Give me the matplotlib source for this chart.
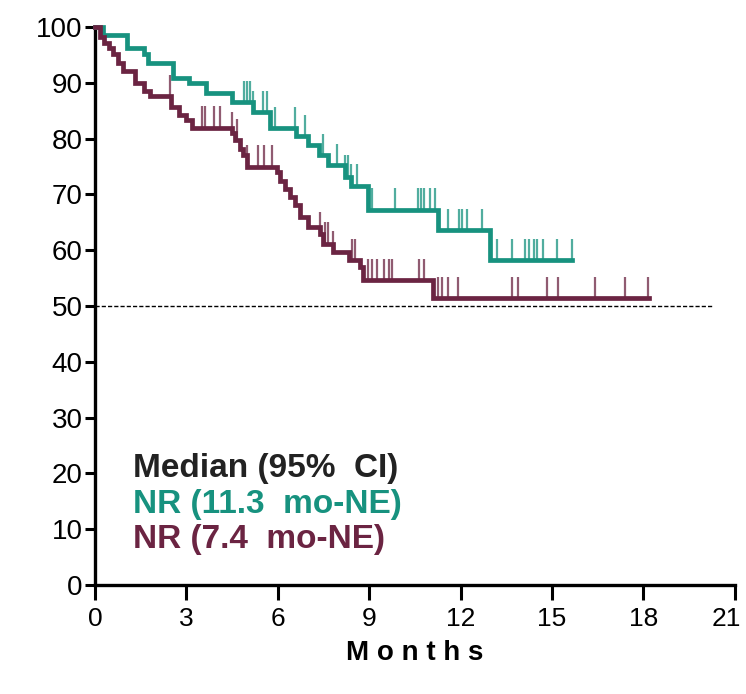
import matplotlib
matplotlib.use("Agg")
import matplotlib.pyplot as plt
import matplotlib.transforms as mtransforms

plt.rcParams['font.family'] = ['Liberation Sans', 'DejaVu Sans']

# survival step data (time in months, % after the drop)
teal_times = [0, 0.25, 1.05, 1.6, 1.75, 2.55, 3.1, 3.65, 4.5, 5.2, 5.75, 6.6,
              7.0, 7.35, 7.65, 8.2, 8.4, 8.95, 11.25, 12.95]
teal_surv = [100, 98.6, 96.2, 95.2, 93.6, 90.9, 89.9, 88.2, 86.5, 84.7, 81.9, 80.5,
             78.8, 77.0, 75.2, 73.2, 71.6, 67.3, 63.6, 58.3]
teal_end = 15.65
teal_censor = [4.9, 5.0, 5.1, 5.2, 5.5, 5.65, 5.9, 6.55, 6.9, 7.5, 7.95, 8.2, 8.3,
               8.4, 8.6, 8.95, 9.1, 9.85, 10.6, 10.7, 10.8, 11.0, 11.15, 11.3,
               11.6, 11.95, 12.05, 12.2, 12.7, 13.2, 13.7, 14.1, 14.25, 14.4,
               14.5, 14.7, 15.15, 15.65]

maroon_times = [0, 0.15, 0.3, 0.45, 0.6, 0.77, 0.93, 1.3, 1.6, 1.8, 2.5, 2.75,
                3.0, 3.2, 4.5, 4.6, 4.75, 4.85, 5.0, 5.97, 6.07, 6.23, 6.4,
                6.56, 6.72, 7.0, 7.38, 7.48, 7.8, 8.35, 8.7, 8.8, 11.08]
maroon_surv = [100, 98.2, 97.2, 96.3, 95.2, 93.6, 92.2, 90.0, 88.6, 87.6, 85.6, 84.2,
               83.3, 82.0, 81.0, 79.7, 78.2, 77.0, 75.0, 74.0, 72.5, 71.0, 69.5,
               68.2, 65.9, 64.1, 63.0, 61.2, 59.6, 58.2, 57.0, 54.6, 51.4]
maroon_end = 18.2
maroon_censor = [2.45, 3.5, 3.6, 3.9, 4.1, 4.5, 4.65, 5.0, 5.35, 5.55, 5.8, 7.4,
                 7.55, 7.65, 7.8, 8.45, 8.55, 8.95, 9.1, 9.25, 9.5, 9.65, 9.75,
                 10.65, 10.8, 11.25, 11.4, 11.6, 11.9, 13.7, 13.9, 14.85, 15.2,
                 16.4, 17.4, 18.15]

legend_lines = ['Median (95%  CI)', 'NR (11.3  mo-NE)', 'NR (7.4  mo-NE)']

teal = '#17927f'
maroon = '#6b2442'

fig = plt.figure(figsize=(7.46, 6.94), dpi=100)
ax = fig.add_axes([0.1273, 0.157, 0.8577, 0.804])


def surv_at(times, surv, t):
    s = surv[0]
    for ti, si in zip(times, surv):
        if ti <= t:
            s = si
    return s


def draw_curve(times, surv, end, censor, color):
    ax.step(times + [end], surv + [surv[-1]], where='post', color=color,
            lw=3.4, clip_on=False, zorder=3, solid_joinstyle='miter')
    for c in censor:
        s = surv_at(times, surv, c)
        ax.vlines(c, s, s + 3.8, color=color, lw=1.6, alpha=0.75, zorder=2)


draw_curve(teal_times, teal_surv, teal_end, teal_censor, teal)
draw_curve(maroon_times, maroon_surv, maroon_end, maroon_censor, maroon)

# median reference line
ax.plot([0, 20.3], [50, 50], color='black', lw=1.0, ls=(0, (3, 1.5)), zorder=1)

ax.set_xlim(0, 21)
ax.set_ylim(0, 100)
ax.set_xticks(range(0, 22, 3))
ax.set_yticks(range(0, 101, 10))
ax.spines['top'].set_visible(False)
ax.spines['right'].set_visible(False)
ax.spines['left'].set_linewidth(2.4)
ax.spines['bottom'].set_linewidth(2.4)
ax.tick_params(axis='y', length=7, width=2.2, labelsize=20, pad=2)
ax.tick_params(axis='x', length=11, width=2.2, labelsize=19, pad=5)
ax.set_xlabel('M o n t h s', fontsize=20, fontweight='bold', labelpad=6)

# keep the last "21" label inside the figure
last = ax.get_xticklabels()[-1]
last.set_transform(last.get_transform() +
                   mtransforms.ScaledTranslation(-8 / 100, 0, fig.dpi_scale_trans))

# median / CI text block
ax.text(1.25, 19.3, legend_lines[0], fontsize=24, fontweight='bold', color='#222222')
ax.text(1.25, 12.9, legend_lines[1], fontsize=24, fontweight='bold', color=teal)
ax.text(1.25, 6.6, legend_lines[2], fontsize=24, fontweight='bold', color=maroon)

fig.savefig('out.png', dpi=100)
